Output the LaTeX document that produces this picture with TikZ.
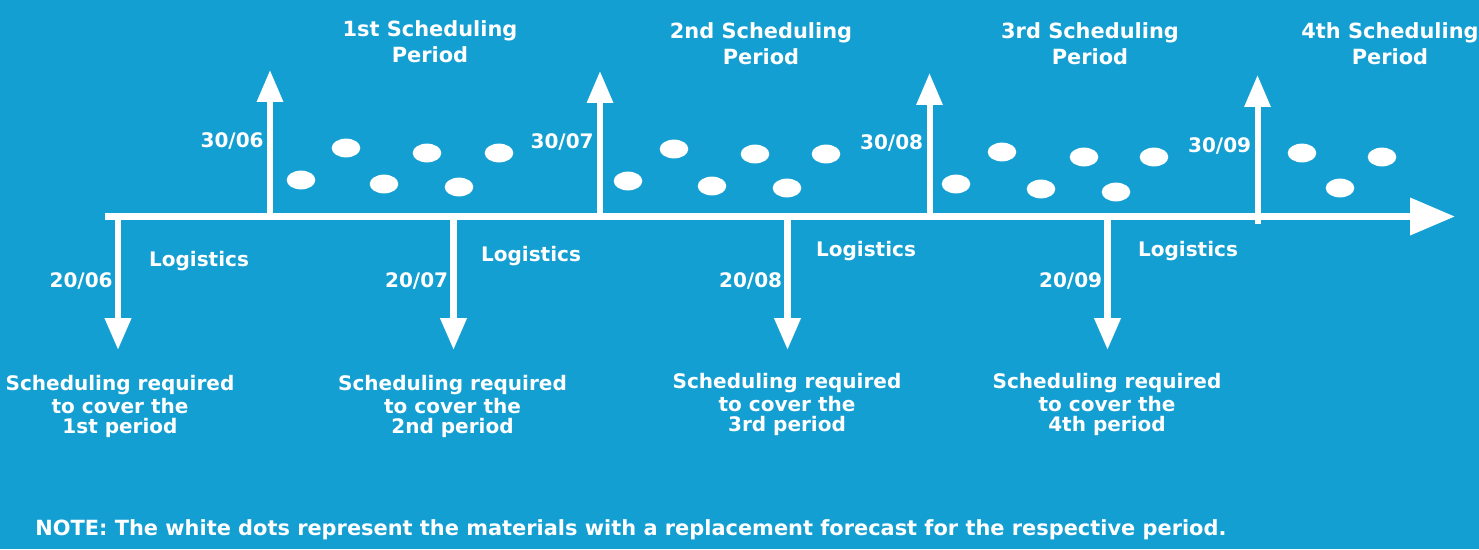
\documentclass[tikz,border=0pt]{standalone}
\usepackage{fontspec}
\setmainfont{DejaVu Sans}
\usetikzlibrary{arrows.meta,positioning}
\definecolor{sky}{RGB}{20,159,210}
\tikzset{lbl/.style={text=white,font=\fontsize{11.4}{13}\selectfont\bfseries,inner sep=0pt},
  big/.style={lbl,font=\fontsize{11.9}{14}\selectfont\bfseries},
  multi/.style={lbl,align=center},
  upar/.style={draw=white,line width=3.4pt,-{Triangle[length=18.1pt,width=14.2pt]}},
  dnar/.style={upar,line width=3.8pt},
  axis/.style={draw=white,line width=4pt,-{Triangle[length=25.5pt,width=20.4pt]}}}

\begin{document}
\begin{tikzpicture}[x=0.02cm,y=-0.02cm]
\fill[sky] (0,0) rectangle (1479,549);
\useasboundingbox (0,0) rectangle (1479,549);
% time line
\coordinate (t0) at (105,216.5);
\coordinate (t1) at (1455,216.5);
\draw[axis] (t0) -- (t1);
% period ends
\foreach \x/\tip/\bot/\d/\dy [count=\i] in {270/70/216/06/147,600/71/216/07/148,929.5/73/216/08/149,1257.5/75/224/09/152}{
  \coordinate (u\i) at (\x,\bot);
  \coordinate (u\i e) at (\x,\tip);
  \draw[upar] (u\i) -- (u\i e);
  \node[lbl,anchor=base east] (end\i) at (\x-6,\dy) {30/\d};
}
% scheduling dates (base = last line)
\foreach \x/\d/\lx/\ly/\sx/\sy/\nm [count=\i] in {118/06/199/266/120/433/1st,453.5/07/531/261/452.5/433/2nd,787.5/08/866/256/787/431/3rd,1107.5/09/1188/256/1107/431/4th}{
  \coordinate (d\i) at (\x,216);
  \coordinate (d\i e) at (\x,350);
  \draw[dnar] (d\i) -- (d\i e);
  \node[lbl,anchor=base east] (due\i) at (\x-5,287) {20/\d};
  \node[lbl,anchor=base] (log\i) at (\lx,\ly) {Logistics};
  \node[multi,anchor=base] (req\i) at (\sx,\sy) {Scheduling required\\to cover the\\[-1.7pt]\nm{} period};
}
% period titles
\foreach \x/\y/\nm [count=\i] in {430/62/1st,761/64/2nd,1090/64/3rd,1390/64/4th}
  \node[multi,big,anchor=base] (per\i) at (\x,\y) {\nm{} Scheduling\\[0.6pt]Period};
% materials
\foreach \x/\y in {301/180,346/148,384/184,427/153,459/187,499/153,
  628/181,674/149,712/186,755/154,787/188,826/154,
  956/184,1002/152,1041/189,1084/157,1116/192,1154/157,
  1302/153,1340/188,1382/157}
  \fill[white] (\x,\y) ellipse (14.3 and 9.4);
\node[big,anchor=base west] (note) at (35,535) {NOTE: The white dots represent the materials with a replacement forecast for the respective period.};
\end{tikzpicture}
\end{document}
